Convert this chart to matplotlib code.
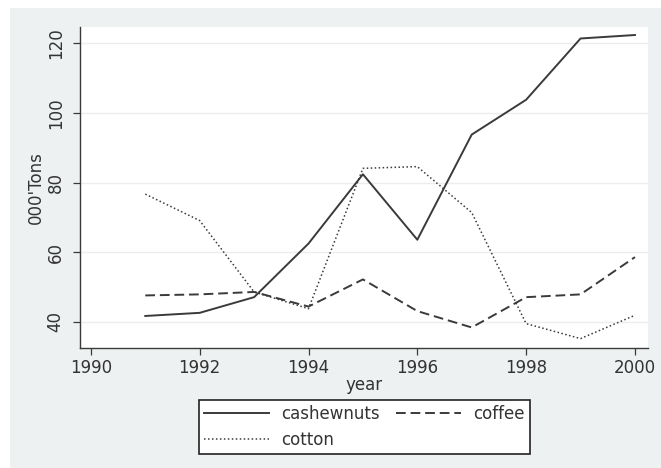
import matplotlib
matplotlib.use("Agg")
import matplotlib.pyplot as plt
from matplotlib.patches import Rectangle

# Annual output, thousand tons
years = [1991, 1992, 1993, 1994, 1995, 1996, 1997, 1998, 1999, 2000]
cashewnuts = [41.7, 42.6, 47.1, 62.5, 82.4, 63.6, 93.8, 103.8, 121.4, 122.4]
coffee = [47.6, 47.9, 48.6, 44.4, 52.2, 43.1, 38.4, 47.1, 47.9, 58.6]
cotton = [76.7, 69.1, 48.6, 43.8, 84.1, 84.6, 71.4, 39.5, 35.2, 41.9]

x_ticks = [1990, 1992, 1994, 1996, 1998, 2000]
y_ticks = [40, 60, 80, 100, 120]

W, H = 661, 468
bg = "#eef1f1"
ink = "#3a3a3a"
txt = "#333333"
fs = 12

fig = plt.figure(figsize=(W / 100, H / 100), dpi=100, facecolor="white")
# graph region panel
fig.add_artist(Rectangle((10 / W, 0), (W - 10) / W, (H - 8) / H,
                         transform=fig.transFigure, facecolor=bg,
                         edgecolor="none", zorder=0))

ax = fig.add_axes([80 / W, 1 - 348 / H, (648 - 80) / W, (348 - 27) / H])
ax.set_facecolor("white")

l1, = ax.plot(years, cashewnuts, color=ink, lw=1.4, ls="-", label="cashewnuts")
l2, = ax.plot(years, coffee, color=ink, lw=1.4, ls=(0, (5, 2.5)), label="coffee")
l3, = ax.plot(years, cotton, color=ink, lw=1.1, ls=(0, (1, 1.6)), label="cotton")

ax.set_xlim(1989.8, 2000.24)
ax.set_ylim(32.5, 124.7)
ax.set_xticks(x_ticks)
ax.set_yticks(y_ticks)
ax.set_xticklabels([str(v) for v in x_ticks], fontsize=fs, color=txt)
ax.set_yticklabels([str(v) for v in y_ticks], fontsize=fs, color=txt,
                   rotation=90, va="center")
ax.tick_params(axis="both", direction="out", length=5, width=0.9, color=ink)
ax.tick_params(axis="x", pad=3)
ax.tick_params(axis="y", pad=6)
ax.grid(axis="y", color="#eceeee", lw=1.0)
ax.set_axisbelow(True)

for side in ("top", "right"):
    ax.spines[side].set_visible(False)
for side in ("left", "bottom"):
    ax.spines[side].set_color(ink)
    ax.spines[side].set_linewidth(1.0)

ax.set_xlabel("year", fontsize=fs, color=txt, labelpad=-1)
ax.set_ylabel("000'Tons", fontsize=fs, color=txt, labelpad=1)

leg = fig.legend([l1, l3, l2], ["cashewnuts", "cotton", "coffee"], ncol=2,
                 loc="center", bbox_to_anchor=(364.5 / W, 1 - 427 / H),
                 fontsize=fs, frameon=True, fancybox=False, edgecolor="#222222",
                 facecolor="white", framealpha=1, handlelength=3.9,
                 handletextpad=0.7, columnspacing=1.0, labelspacing=0.5,
                 borderpad=0.3, borderaxespad=0)
leg.get_frame().set_linewidth(1.2)
for t in leg.get_texts():
    t.set_color(txt)

fig.savefig("out.png", dpi=100, facecolor="white")
